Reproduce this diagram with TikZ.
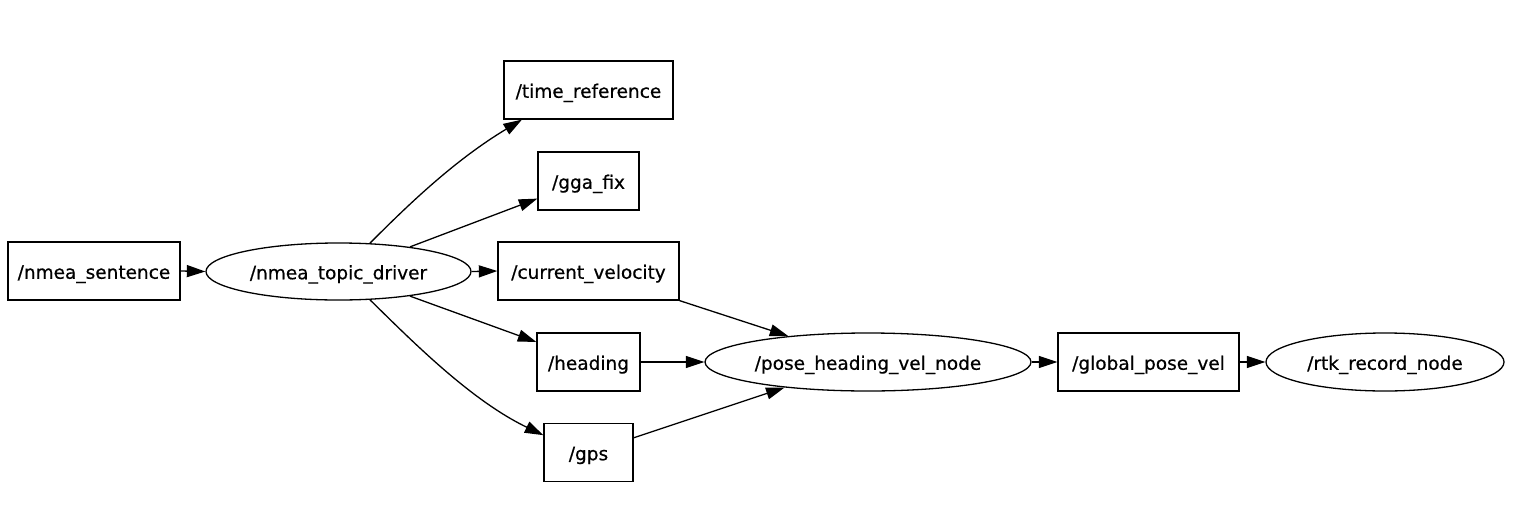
\documentclass[tikz,border=0pt]{standalone}
\usepackage{fontspec}
\setmainfont[FakeBold=0.6]{DejaVu Sans}
\usetikzlibrary{arrows.meta,shapes.geometric}
\begin{document}
\begin{tikzpicture}[x=1pt,y=-1pt,
  every node/.style={font=\fontsize{18.5}{21}\selectfont, inner sep=0pt, line width=1.3pt, draw=black, text height=15.5pt, text depth=0pt},
  topic/.style={rectangle, minimum height=58pt},
  nodeell/.style={ellipse, minimum height=57pt},
  edge/.style={line width=1.3pt, -{Triangle[length=18.5pt,width=12pt]}}]
\useasboundingbox (0,0) rectangle (1515,525);
\node[topic, minimum width=172pt] (ns) at (94,271) {/nmea\_sentence};
\node[nodeell, minimum width=265pt] (drv) at (338.5,271.5) {/nmea\_topic\_driver};
\node[topic, minimum width=169pt] (tr) at (588.5,90) {/time\_reference};
\node[topic, minimum width=101pt] (gga) at (588.5,181) {/gga\_fix};
\node[topic, minimum width=181pt] (cv) at (588.5,271) {/current\_velocity};
\node[topic, minimum width=103pt] (hd) at (588.5,362) {/heading};
\node[topic, minimum width=89pt] (gps) at (588.5,452.5) {/gps};
\node[nodeell, minimum width=326pt, minimum height=58pt] (phv) at (868,362) {/pose\_heading\_vel\_node};
\node[topic, minimum width=181pt] (gpv) at (1148.5,362) {/global\_pose\_vel};
\node[nodeell, minimum width=238pt, minimum height=58pt] (rtk) at (1385,362) {/rtk\_record\_node};

\draw[edge] (ns.east) -- (drv.west);
\draw[edge] (drv.42) .. controls (410,203) and (455,160) .. (tr.204);
\draw[edge] (drv.19.4) -- (gga.199.3);
\draw[edge] (drv.east) -- (cv.west);
\draw[edge] (drv.-19.4) -- (hd.159.8);
\draw[edge] (drv.-42) .. controls (410,339) and (470,400) .. (gps.159.7);
\draw[edge] (cv.south east) -- (phv.162.2);
\draw[edge] (hd.east) -- (phv.west);
\draw[edge] (gps.18) -- (phv.197.8);
\draw[edge] (phv.east) -- (gpv.west);
\draw[edge] (gpv.east) -- (rtk.west);
\end{tikzpicture}
\end{document}
